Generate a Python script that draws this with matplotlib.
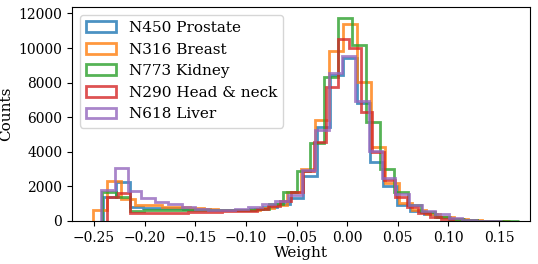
import numpy as np
import matplotlib
matplotlib.use("Agg")
import matplotlib.pyplot as plt

plt.rcParams['font.family'] = ['DejaVu Serif']
plt.rcParams['mathtext.fontset'] = 'dejavuserif'

labels = ["N450 Prostate", "N316 Breast", "N773 Kidney", "N290 Head & neck", "N618 Liver"]
colors = ["#1f77b4", "#ff7f0e", "#2ca02c", "#d62728", "#9467bd"]

# data range (min, max) of each series; 30 bins each
ranges = {
    "N450 Prostate": (-0.2414, 0.1546),
    "N316 Breast": (-0.2510, 0.1605),
    "N773 Kidney": (-0.2418, 0.1692),
    "N290 Head & neck": (-0.2375, 0.1045),
    "N618 Liver": (-0.2428, 0.1532),
}

prostate = [1400, 2270, 800, 760, 740, 730, 720, 690, 660, 640,
            650, 690, 800, 1000, 1350, 2600, 5450, 8440, 9400, 6800,
            3400, 2000, 950, 600, 380, 230, 110, 50, 20, 10]
breast = [650, 2330, 1250, 925, 900, 820, 790, 740, 700, 650,
          630, 660, 750, 950, 1700, 3000, 5840, 9840, 11380, 8010,
          4300, 2200, 1040, 635, 400, 250, 130, 60, 25, 15]
kidney = [1690, 1400, 560, 620, 650, 660, 660, 650, 640, 640,
          660, 720, 1000, 1700, 2900, 4490, 8340, 11750, 10170, 5740,
          3000, 1700, 900, 500, 250, 120, 40, 10, 0, 0]
headneck = [1400, 1600, 470, 460, 450, 450, 470, 500, 520, 540,
            550, 570, 600, 700, 850, 1150, 1700, 2900, 4580, 7760,
            10500, 9980, 6280, 4000, 2370, 1400, 800, 450, 250, 120]
liver = [1790, 3045, 1750, 1350, 1115, 980, 790, 700, 660, 650,
         690, 780, 965, 1175, 1500, 2950, 5260, 8530, 9550, 6930,
         4045, 2500, 1550, 900, 550, 400, 150, 60, 20, 10]

series = {
    "N450 Prostate": prostate,
    "N316 Breast": breast,
    "N773 Kidney": kidney,
    "N290 Head & neck": headneck,
    "N618 Liver": liver,
}

fig = plt.figure(figsize=(5.38, 2.64), dpi=100)
ax = fig.add_axes([0.134, 0.163, 0.852, 0.810])

for lab, col in zip(labels, colors):
    lo, hi = ranges[lab]
    counts = np.array(series[lab], dtype=float)
    edges = np.linspace(lo, hi, len(counts) + 1)
    centers = 0.5 * (edges[:-1] + edges[1:])
    ax.hist(centers, bins=edges, weights=counts, histtype='step',
            linewidth=2, alpha=0.8, color=col, label=lab)

ax.set_xlim(-0.2717, 0.181)
ax.set_ylim(0, 12365)
ax.set_xticks([-0.25, -0.20, -0.15, -0.10, -0.05, 0.00, 0.05, 0.10, 0.15])
ax.set_yticks([0, 2000, 4000, 6000, 8000, 10000, 12000])
ax.tick_params(labelsize=10)
ax.set_xlabel("Weight", fontsize=11, labelpad=1)
ax.set_ylabel("Counts", fontsize=11)
ax.legend(loc='upper left', fontsize=11)

fig.savefig("out.png", dpi=100)
